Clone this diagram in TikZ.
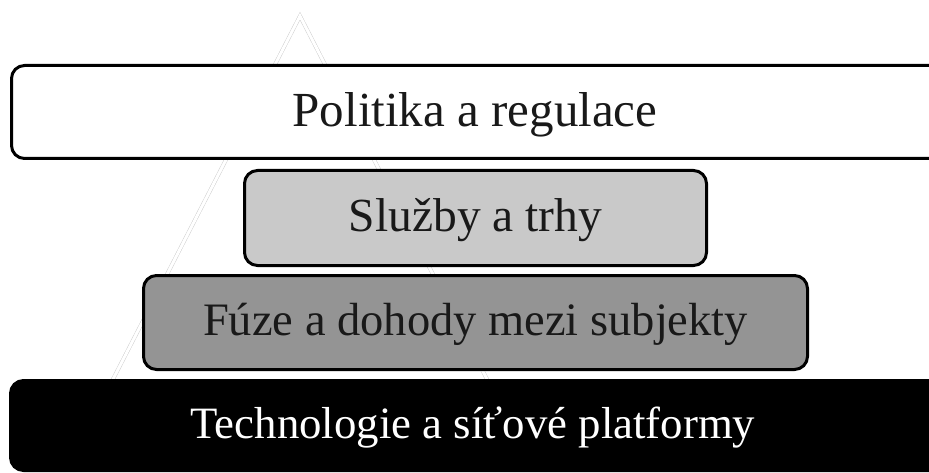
\documentclass[tikz,border=0pt]{standalone}
\usepackage{fontspec}
\setmainfont{Liberation Serif}
\begin{document}
\begin{tikzpicture}[x=1pt,y=-1pt,
  layer/.style={draw=black, line width=3pt, rounded corners=13pt,
    inner sep=0pt, anchor=center},
  caption/.style={inner sep=0pt, text=black!90, anchor=center},
  pyramid/.style={draw=black!22, line width=0.4pt, double=white,
    double distance=3pt}]
  \useasboundingbox (0,0) rectangle (929,473);
  \clip (0,0) rectangle (929,473);
  % faint pyramid outline behind the layers
  \draw[pyramid] (300,16) -- (92,420) -- (508,420) -- cycle;
  % layers, top to bottom (the widest ones run off the right edge)
  \node[layer, fill=white, minimum width=947pt, minimum height=93pt]
    (policy) at (485,112) {};
  \node[layer, fill=black!21, minimum width=462pt, minimum height=95pt]
    (services) at (475.5,218) {};
  \node[layer, fill=black!42, minimum width=664pt, minimum height=94pt]
    (mergers) at (475.5,322.5) {};
  \node[layer, fill=black, minimum width=949pt, minimum height=90pt]
    (tech) at (485,425.5) {};
  % captions
  \node[caption, font=\fontsize{49}{56}\selectfont]
    (policy-text) at (475,115) {Politika a regulace};
  \node[caption, font=\fontsize{47.5}{56}\selectfont]
    (services-text) at (services.center) [yshift=-2pt] {Služby a trhy};
  \node[caption, font=\fontsize{46.5}{56}\selectfont]
    (mergers-text) at (mergers.center) [yshift=-2pt] {Fúze a dohody mezi subjekty};
  \node[caption, text=white, font=\fontsize{44.8}{56}\selectfont]
    (tech-text) at (473,428) {Technologie a síťové platformy};
\end{tikzpicture}
\end{document}
